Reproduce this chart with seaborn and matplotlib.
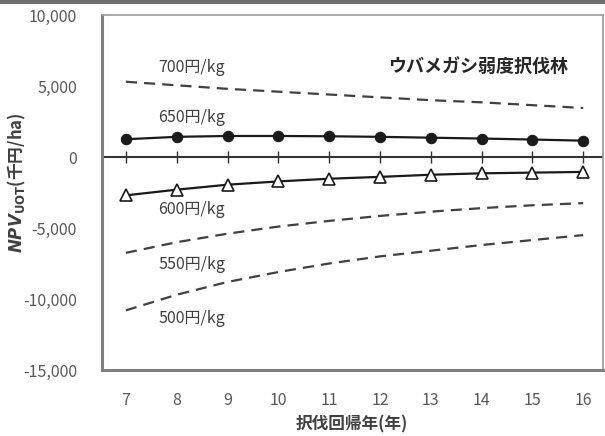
import matplotlib
matplotlib.use("Agg")
import matplotlib.pyplot as plt
import seaborn as sns
import pandas as pd
from matplotlib.lines import Line2D

years = [7, 8, 9, 10, 11, 12, 13, 14, 15, 16]
npv_700 = [5300, 5050, 4800, 4600, 4400, 4200, 4000, 3850, 3650, 3450]
npv_650 = [1250, 1420, 1480, 1480, 1460, 1420, 1360, 1300, 1230, 1150]
npv_600 = [-2700, -2300, -1950, -1720, -1530, -1400, -1250, -1150, -1100, -1050]
npv_550 = [-6750, -6000, -5400, -4900, -4500, -4150, -3850, -3600, -3400, -3250]
npv_500 = [-10800, -9700, -8800, -8100, -7500, -7000, -6600, -6200, -5850, -5500]
labels = ["700円/kg", "650円/kg", "600円/kg", "550円/kg", "500円/kg"]
yticks = [10000, 5000, 0, -5000, -10000, -15000]
title = "ウバメガシ弱度択伐林"
xlabel = "択伐回帰年(年)"

sns.set_theme(style="white")
plt.rcParams['font.family'] = ['Noto Sans CJK JP', 'DejaVu Sans']

fig = plt.figure(figsize=(6.05, 4.36), dpi=100)
ax = fig.add_axes([102/605, 66/436, 501/605, 355/436])

df = pd.DataFrame({"year": years, "p700": npv_700, "p650": npv_650,
                   "p600": npv_600, "p550": npv_550, "p500": npv_500})

ax.axhline(0, color="#333333", lw=1.5, zorder=1.5)

dash = (5, 3.2)
for col in ["p700", "p550", "p500"]:
    sns.lineplot(data=df, x="year", y=col, ax=ax, color="#404040", lw=1.6,
                 dashes=False, linestyle=(0, dash))
sns.lineplot(data=df, x="year", y="p650", ax=ax, color="#1a1a1a", lw=1.6,
             marker="o", markersize=7.5, markerfacecolor="#1a1a1a",
             markeredgecolor="#1a1a1a")
sns.lineplot(data=df, x="year", y="p600", ax=ax, color="#1a1a1a", lw=1.6,
             marker="^", markersize=9, markerfacecolor="white",
             markeredgecolor="#1a1a1a", markeredgewidth=1.2)

ax.set_xlim(6.53, 16.39)
ax.set_ylim(-15000, 10000)
ax.set_yticks(yticks)
ax.set_yticklabels([f"{v:,}" for v in yticks])
ax.set_xticks(years)
ax.set_xticklabels([str(y) for y in years])
ax.tick_params(axis='x', labelsize=11.5, colors="#595959", length=0, pad=16)
ax.tick_params(axis='y', labelsize=11.5, colors="#595959", length=4,
               direction='out', width=1.2, pad=14)
ax.tick_params(axis='y', color="#808080")
ax.set_xlabel("")
ax.set_ylabel("")

for s in ['left', 'bottom']:
    ax.spines[s].set_color("#808080")
    ax.spines[s].set_linewidth(2.2)
for s in ['top', 'right']:
    ax.spines[s].set_color("#9a9a9a")
    ax.spines[s].set_linewidth(1.2)

# crossing tick marks on the zero line
sec = ax.secondary_xaxis(0.6)
sec.set_xticks(years)
sec.tick_params(axis='x', direction='inout', length=8, width=1.0, color="#333333",
                labelbottom=False, labeltop=False)
for s in sec.spines.values():
    s.set_visible(False)

# series labels
lab_x = 8.3
lab_y = [6300, 2800, -3700, -7550, -11400]
for t, yv in zip(labels, lab_y):
    ax.text(lab_x, yv, t, fontsize=11.5, color="#404040", ha='center', va='center')
ax.text(0.93, 0.852, title, transform=ax.transAxes, fontsize=13, color="#262626",
        ha='right', va='center', fontweight='bold')

fig.text(352/605, 1 - 424/436, xlabel, ha='center', va='center', fontsize=12,
         color="#404040", fontweight='bold')
fig.text(17/605, 1 - 183/436, r"$\boldsymbol{NPV}_{\mathbf{UOT}}$(千円/ha)",
         rotation=90, ha='center', va='center', fontsize=12, color="#404040",
         fontweight='bold')

fig.add_artist(Line2D([0, 1], [0.996, 0.996], transform=fig.transFigure,
                      color="#6e6e6e", lw=3))

fig.savefig("out.png", dpi=100)
